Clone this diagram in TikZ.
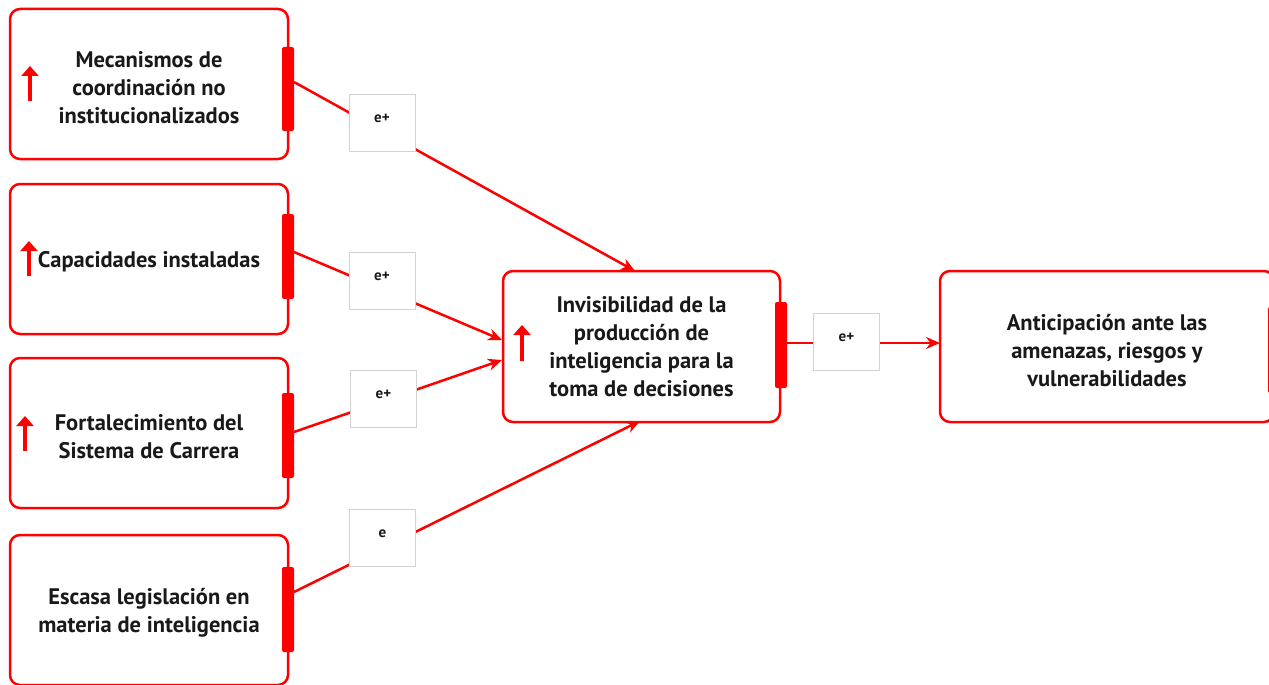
\documentclass[tikz,border=0pt]{standalone}
\usepackage{fontspec}
\setmainfont{PT Sans}
\usetikzlibrary{arrows.meta}
\definecolor{rd}{RGB}{255,0,0}
\definecolor{tx}{RGB}{25,25,25}
\definecolor{lg}{RGB}{210,210,210}
\begin{document}
\begin{tikzpicture}[x=1pt,y=-1pt,
  box/.style={draw=rd, line width=2.5pt, rounded corners=10pt, fill=white,
    minimum width=278pt, minimum height=150pt, inner sep=0pt},
  txt/.style={align=center, inner sep=0pt, font=\fontsize{22.5}{28}\selectfont\bfseries, text=tx},
  bar/.style={fill=rd, rounded corners=2pt, minimum width=12pt, inner sep=0pt},
  lbl/.style={draw=lg, line width=1pt, fill=white, minimum width=66pt, minimum height=57pt,
    inner sep=0pt, font=\fontsize{15}{17}\selectfont\bfseries, text=tx},
  conn/.style={draw=rd, line width=2.5pt, -{Stealth[length=14pt,width=12pt]}},
  up/.style={draw=rd, line width=4.5pt, -{Triangle[length=10pt,width=17pt]}}]
\useasboundingbox (0,0) rectangle (1269,685);
\clip (0,0) rectangle (1269,685);

% boxes
\node[box] (b1) at (149,84) {};
\node[box] (b2) at (149,259) {};
\node[box] (b3) at (149,433) {};
\node[box] (b4) at (149,610) {};
\node[box, minimum width=277pt, minimum height=151pt] (c) at (641.5,346.5) {};
\node[box, minimum width=334pt, minimum height=151pt] (r) at (1107,346.5) {};

% texts
\node[txt] (tb1) at ([yshift=-3.5pt]b1.center) {Mecanismos de\\coordinación no\\institucionalizados};
\node[txt] (tb2) at ([yshift=-2.5pt]b2.center) {Capacidades instaladas};
\node[txt] (tb3) at ([yshift=-4pt]b3.center) {Fortalecimiento del\\Sistema de Carrera};
\node[txt] (tb4) at ([yshift=-2.5pt]b4.center) {Escasa legislación en\\materia de inteligencia};
\node[txt] (tc) at ([yshift=-0.5pt]c.center) {Invisibilidad de la\\producción de\\inteligencia para la\\toma de decisiones};
\node[txt] (tr) at ([yshift=-4pt]r.center) {Anticipación ante las\\amenazas, riesgos y\\vulnerabilidades};

% bars
\node[bar, minimum height=84pt] (bar1) at (288,89) {};
\node[bar, minimum height=85pt] (bar2) at (288,256.5) {};
\node[bar, minimum height=85pt] (bar3) at (288,435.5) {};
\node[bar, minimum height=85pt] (bar4) at (288,609.5) {};
\node[bar, minimum height=86pt] (barc) at (781,345) {};
\node[bar, minimum height=86pt] (barr) at (1274,350) {};

% up arrows
\coordinate (u1a) at (30,101); \coordinate (u1b) at (30,66);
\coordinate (u2a) at (29,276); \coordinate (u2b) at (29,241);
\coordinate (u3a) at (25,451); \coordinate (u3b) at (25,416);
\coordinate (uca) at (522,361); \coordinate (ucb) at (522,325);
\draw[up] (u1a) -- (u1b);
\draw[up] (u2a) -- (u2b);
\draw[up] (u3a) -- (u3b);
\draw[up] (uca) -- (ucb);

% connector end points
\coordinate (s1) at (294,82);  \coordinate (t1) at (635,271);
\coordinate (s2) at (294,252); \coordinate (t2) at (502,340);
\coordinate (s3) at (294,432); \coordinate (t3) at (502,360);
\coordinate (s4) at (294,592); \coordinate (t4) at (640,421);
\coordinate (s5) at (787,343); \coordinate (t5) at (940,343);
\draw[conn] (s1) -- (t1);
\draw[conn] (s2) -- (t2);
\draw[conn] (s3) -- (t3);
\draw[conn] (s4) -- (t4);
\draw[conn] (s5) -- (t5);

% labels
\node[lbl] (l1) at (382,122.5) {\raisebox{9pt}{e+}};
\node[lbl] (l2) at (382,280.5) {\raisebox{9pt}{e+}};
\node[lbl] (l3) at (383.5,399) {\raisebox{9pt}{e+}};
\node[lbl] (l4) at (382.5,538) {\raisebox{9pt}{e}};
\node[lbl] (l5) at (846.5,342) {\raisebox{9pt}{e+}};
\end{tikzpicture}
\end{document}
